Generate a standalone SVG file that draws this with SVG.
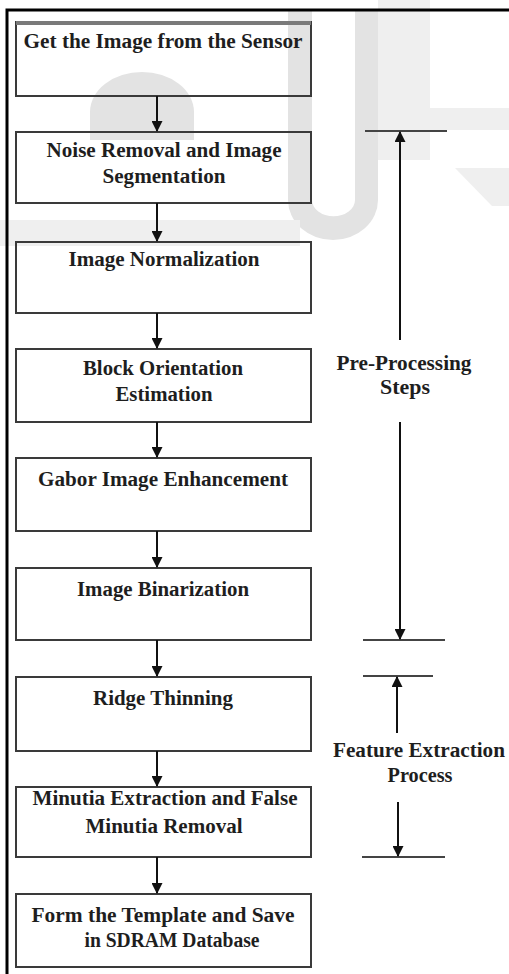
<svg xmlns="http://www.w3.org/2000/svg" width="509" height="974" viewBox="0 0 509 974">
  <style>
    .box { fill: none; stroke: #3a3a3a; stroke-width: 2; }
    .lbl { font-family: "Liberation Serif", "Times New Roman", serif; font-weight: bold; font-size: 20px; fill: #1e1e1e; text-anchor: middle; }
    .edge { stroke: #111; stroke-width: 2; fill: none; }
    .bar { stroke: #444; stroke-width: 2; }
    .wm { fill: #e3e3e3; }
    .wm2 { fill: #efefef; }
  </style>
  <defs>
    <marker id="head" markerUnits="userSpaceOnUse" markerWidth="11" markerHeight="11" refX="10" refY="5.5" orient="auto">
      <path d="M0,0 L11,5.5 L0,11 Z" fill="#111"/>
    </marker>
  </defs>

  <rect width="509" height="974" fill="#ffffff"/>

  <!-- faint background watermark -->
  <g id="watermark">
    <rect class="wm2" x="378" y="0" width="52" height="160"/>
    <path class="wm" d="M288,10 V200 A45,40 0 0 0 378,200 V10 H355 V200 A21,16 0 0 1 312,200 V10 Z"/>
    <path class="wm2" d="M0,220 H300 V246 H0 Z"/>
    <path class="wm" d="M90,140 V112 A52,40 0 0 1 194,112 V140 Z"/>
    <path class="wm2" d="M430,108 H509 V130 H430 Z"/>
    <path class="wm2" d="M455,168 H509 V206 H492 Z"/>
  </g>

  <!-- outer frame -->
  <path d="M7,974 V10 H509" fill="none" stroke="#000" stroke-width="3"/>

  <g id="n1">
    <rect class="box" x="16" y="22" width="295" height="74"/>
    <line x1="16" y1="23" x2="311" y2="23" stroke="#7a7a7a" stroke-width="4"/>
    <text class="lbl" x="163" y="48" textLength="279" lengthAdjust="spacingAndGlyphs">Get the Image from the Sensor</text>
  </g>
  <g id="n2">
    <rect class="box" x="16" y="132" width="295" height="71"/>
    <text class="lbl" x="164" y="157" textLength="235" lengthAdjust="spacingAndGlyphs">Noise Removal and Image</text>
    <text class="lbl" x="164" y="183" textLength="123" lengthAdjust="spacingAndGlyphs">Segmentation</text>
  </g>
  <g id="n3">
    <rect class="box" x="16" y="242" width="295" height="71"/>
    <text class="lbl" x="164" y="266" textLength="191" lengthAdjust="spacingAndGlyphs">Image Normalization</text>
  </g>
  <g id="n4">
    <rect class="box" x="16" y="349" width="295" height="73"/>
    <text class="lbl" x="163" y="375" textLength="160" lengthAdjust="spacingAndGlyphs">Block Orientation</text>
    <text class="lbl" x="164" y="401" textLength="97" lengthAdjust="spacingAndGlyphs">Estimation</text>
  </g>
  <g id="n5">
    <rect class="box" x="16" y="458" width="295" height="73"/>
    <text class="lbl" x="163" y="486" textLength="250" lengthAdjust="spacingAndGlyphs">Gabor Image Enhancement</text>
  </g>
  <g id="n6">
    <rect class="box" x="16" y="568" width="295" height="72"/>
    <text class="lbl" x="163" y="596" textLength="172" lengthAdjust="spacingAndGlyphs">Image Binarization</text>
  </g>
  <g id="n7">
    <rect class="box" x="16" y="677" width="295" height="74"/>
    <text class="lbl" x="163" y="705" textLength="140" lengthAdjust="spacingAndGlyphs">Ridge Thinning</text>
  </g>
  <g id="n8">
    <rect class="box" x="16" y="787" width="295" height="70"/>
    <text class="lbl" x="165" y="805" textLength="265" lengthAdjust="spacingAndGlyphs">Minutia Extraction and False</text>
    <text class="lbl" x="164" y="833" textLength="157" lengthAdjust="spacingAndGlyphs">Minutia Removal</text>
  </g>
  <g id="n9">
    <rect class="box" x="16" y="894" width="295" height="73"/>
    <text class="lbl" x="163" y="922" textLength="263" lengthAdjust="spacingAndGlyphs">Form the Template and Save</text>
    <text class="lbl" x="172" y="947" textLength="175" lengthAdjust="spacingAndGlyphs">in SDRAM Database</text>
  </g>

  <!-- stage brackets on the right -->
  <g id="preprocessing">
    <line class="bar" x1="365" y1="131" x2="447" y2="131"/>
    <line class="bar" x1="363" y1="640" x2="445" y2="640"/>
    <text class="lbl" x="404" y="370" textLength="135" lengthAdjust="spacingAndGlyphs">Pre-Processing</text>
    <text class="lbl" x="405" y="394" textLength="50" lengthAdjust="spacingAndGlyphs">Steps</text>
  </g>
  <g id="feature">
    <line class="bar" x1="363" y1="676" x2="433" y2="676"/>
    <line class="bar" x1="362" y1="857" x2="445" y2="857"/>
    <text class="lbl" x="419" y="757" textLength="172" lengthAdjust="spacingAndGlyphs">Feature Extraction</text>
    <text class="lbl" x="420" y="782" textLength="65" lengthAdjust="spacingAndGlyphs">Process</text>
  </g>

  <g id="connectors">
    <line class="edge" x1="157" y1="96" x2="157" y2="131" marker-end="url(#head)"/>
    <line class="edge" x1="157" y1="203" x2="157" y2="241" marker-end="url(#head)"/>
    <line class="edge" x1="157" y1="313" x2="157" y2="348" marker-end="url(#head)"/>
    <line class="edge" x1="157" y1="422" x2="157" y2="457" marker-end="url(#head)"/>
    <line class="edge" x1="157" y1="531" x2="157" y2="567" marker-end="url(#head)"/>
    <line class="edge" x1="157" y1="640" x2="157" y2="676" marker-end="url(#head)"/>
    <line class="edge" x1="157" y1="751" x2="157" y2="786" marker-end="url(#head)"/>
    <line class="edge" x1="157" y1="857" x2="157" y2="893" marker-end="url(#head)"/>
    <line class="edge" x1="400" y1="340" x2="400" y2="132" marker-end="url(#head)"/>
    <line class="edge" x1="400" y1="422" x2="400" y2="639" marker-end="url(#head)"/>
    <line class="edge" x1="397" y1="733" x2="397" y2="677" marker-end="url(#head)"/>
    <line class="edge" x1="398" y1="802" x2="398" y2="856" marker-end="url(#head)"/>
  </g>
</svg>
